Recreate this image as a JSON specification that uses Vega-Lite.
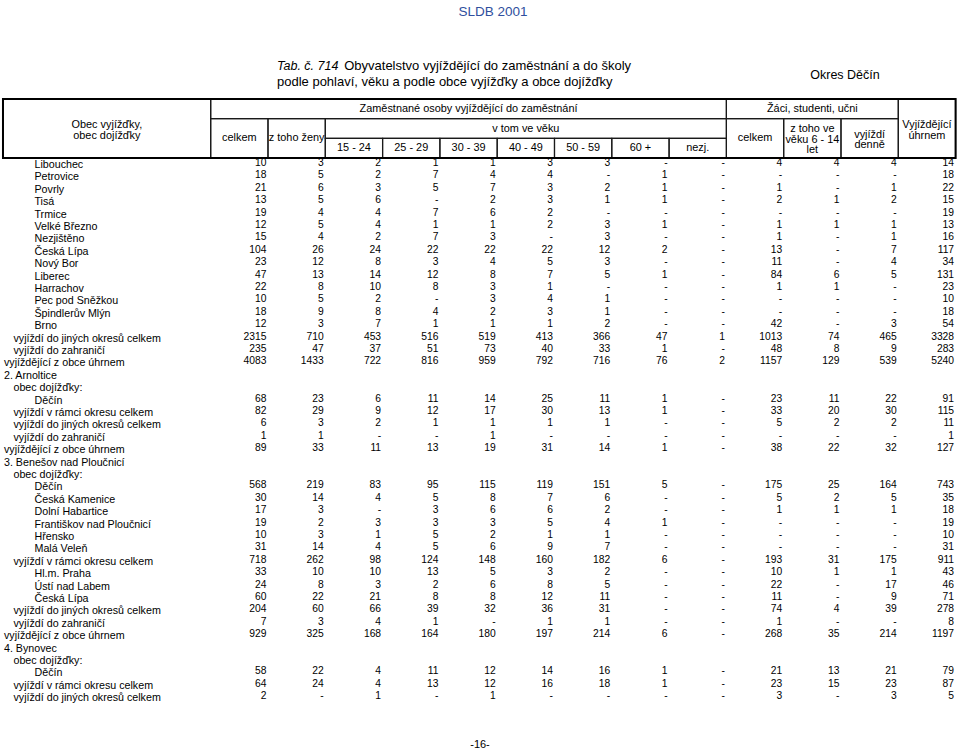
{
  "$schema": "https://vega.github.io/schema/vega-lite/v6.json",
  "width": 960,
  "height": 753,
  "autosize": {"type": "fit", "contains": "padding"},
  "padding": 0,
  "background": "#ffffff",
  "config": {"view": {"stroke": null}, "axis": {"disable": true}, "legend": {"disable": true}, "font": "Liberation Sans"},
  "datasets": {
    "rows": [
      {"r": 0, "label": "Libouchec", "lvl": 2, "celkem": 10, "zeny": 3, "v15_24": 2, "v25_29": 1, "v30_39": 1, "v40_49": 3, "v50_59": 3, "v60": 0, "nezj": 0, "zaci": 4, "zaci6_14": 4, "denne": 4, "uhrnem": 14},
      {"r": 1, "label": "Petrovice", "lvl": 2, "celkem": 18, "zeny": 5, "v15_24": 2, "v25_29": 7, "v30_39": 4, "v40_49": 4, "v50_59": 0, "v60": 1, "nezj": 0, "zaci": 0, "zaci6_14": 0, "denne": 0, "uhrnem": 18},
      {"r": 2, "label": "Povrly", "lvl": 2, "celkem": 21, "zeny": 6, "v15_24": 3, "v25_29": 5, "v30_39": 7, "v40_49": 3, "v50_59": 2, "v60": 1, "nezj": 0, "zaci": 1, "zaci6_14": 0, "denne": 1, "uhrnem": 22},
      {"r": 3, "label": "Tisá", "lvl": 2, "celkem": 13, "zeny": 5, "v15_24": 6, "v25_29": 0, "v30_39": 2, "v40_49": 3, "v50_59": 1, "v60": 1, "nezj": 0, "zaci": 2, "zaci6_14": 1, "denne": 2, "uhrnem": 15},
      {"r": 4, "label": "Trmice", "lvl": 2, "celkem": 19, "zeny": 4, "v15_24": 4, "v25_29": 7, "v30_39": 6, "v40_49": 2, "v50_59": 0, "v60": 0, "nezj": 0, "zaci": 0, "zaci6_14": 0, "denne": 0, "uhrnem": 19},
      {"r": 5, "label": "Velké Březno", "lvl": 2, "celkem": 12, "zeny": 5, "v15_24": 4, "v25_29": 1, "v30_39": 1, "v40_49": 2, "v50_59": 3, "v60": 1, "nezj": 0, "zaci": 1, "zaci6_14": 1, "denne": 1, "uhrnem": 13},
      {"r": 6, "label": "Nezjištěno", "lvl": 2, "celkem": 15, "zeny": 4, "v15_24": 2, "v25_29": 7, "v30_39": 3, "v40_49": 0, "v50_59": 3, "v60": 0, "nezj": 0, "zaci": 1, "zaci6_14": 0, "denne": 1, "uhrnem": 16},
      {"r": 7, "label": "Česká Lípa", "lvl": 2, "celkem": 104, "zeny": 26, "v15_24": 24, "v25_29": 22, "v30_39": 22, "v40_49": 22, "v50_59": 12, "v60": 2, "nezj": 0, "zaci": 13, "zaci6_14": 0, "denne": 7, "uhrnem": 117},
      {"r": 8, "label": "Nový Bor", "lvl": 2, "celkem": 23, "zeny": 12, "v15_24": 8, "v25_29": 3, "v30_39": 4, "v40_49": 5, "v50_59": 3, "v60": 0, "nezj": 0, "zaci": 11, "zaci6_14": 0, "denne": 4, "uhrnem": 34},
      {"r": 9, "label": "Liberec", "lvl": 2, "celkem": 47, "zeny": 13, "v15_24": 14, "v25_29": 12, "v30_39": 8, "v40_49": 7, "v50_59": 5, "v60": 1, "nezj": 0, "zaci": 84, "zaci6_14": 6, "denne": 5, "uhrnem": 131},
      {"r": 10, "label": "Harrachov", "lvl": 2, "celkem": 22, "zeny": 8, "v15_24": 10, "v25_29": 8, "v30_39": 3, "v40_49": 1, "v50_59": 0, "v60": 0, "nezj": 0, "zaci": 1, "zaci6_14": 1, "denne": 0, "uhrnem": 23},
      {"r": 11, "label": "Pec pod Sněžkou", "lvl": 2, "celkem": 10, "zeny": 5, "v15_24": 2, "v25_29": 0, "v30_39": 3, "v40_49": 4, "v50_59": 1, "v60": 0, "nezj": 0, "zaci": 0, "zaci6_14": 0, "denne": 0, "uhrnem": 10},
      {"r": 12, "label": "Špindlerův Mlýn", "lvl": 2, "celkem": 18, "zeny": 9, "v15_24": 8, "v25_29": 4, "v30_39": 2, "v40_49": 3, "v50_59": 1, "v60": 0, "nezj": 0, "zaci": 0, "zaci6_14": 0, "denne": 0, "uhrnem": 18},
      {"r": 13, "label": "Brno", "lvl": 2, "celkem": 12, "zeny": 3, "v15_24": 7, "v25_29": 1, "v30_39": 1, "v40_49": 1, "v50_59": 2, "v60": 0, "nezj": 0, "zaci": 42, "zaci6_14": 0, "denne": 3, "uhrnem": 54},
      {"r": 14, "label": "vyjíždí do jiných okresů celkem", "lvl": 1, "celkem": 2315, "zeny": 710, "v15_24": 453, "v25_29": 516, "v30_39": 519, "v40_49": 413, "v50_59": 366, "v60": 47, "nezj": 1, "zaci": 1013, "zaci6_14": 74, "denne": 465, "uhrnem": 3328},
      {"r": 15, "label": "vyjíždí do zahraničí", "lvl": 1, "celkem": 235, "zeny": 47, "v15_24": 37, "v25_29": 51, "v30_39": 73, "v40_49": 40, "v50_59": 33, "v60": 1, "nezj": 0, "zaci": 48, "zaci6_14": 8, "denne": 9, "uhrnem": 283},
      {"r": 16, "label": "vyjíždějící z obce úhrnem", "lvl": 0, "celkem": 4083, "zeny": 1433, "v15_24": 722, "v25_29": 816, "v30_39": 959, "v40_49": 792, "v50_59": 716, "v60": 76, "nezj": 2, "zaci": 1157, "zaci6_14": 129, "denne": 539, "uhrnem": 5240},
      {"r": 17, "label": "2. Arnoltice", "lvl": 0},
      {"r": 18, "label": "obec dojížďky:", "lvl": 1},
      {"r": 19, "label": "Děčín", "lvl": 2, "celkem": 68, "zeny": 23, "v15_24": 6, "v25_29": 11, "v30_39": 14, "v40_49": 25, "v50_59": 11, "v60": 1, "nezj": 0, "zaci": 23, "zaci6_14": 11, "denne": 22, "uhrnem": 91},
      {"r": 20, "label": "vyjíždí v rámci okresu celkem", "lvl": 1, "celkem": 82, "zeny": 29, "v15_24": 9, "v25_29": 12, "v30_39": 17, "v40_49": 30, "v50_59": 13, "v60": 1, "nezj": 0, "zaci": 33, "zaci6_14": 20, "denne": 30, "uhrnem": 115},
      {"r": 21, "label": "vyjíždí do jiných okresů celkem", "lvl": 1, "celkem": 6, "zeny": 3, "v15_24": 2, "v25_29": 1, "v30_39": 1, "v40_49": 1, "v50_59": 1, "v60": 0, "nezj": 0, "zaci": 5, "zaci6_14": 2, "denne": 2, "uhrnem": 11},
      {"r": 22, "label": "vyjíždí do zahraničí", "lvl": 1, "celkem": 1, "zeny": 1, "v15_24": 0, "v25_29": 0, "v30_39": 1, "v40_49": 0, "v50_59": 0, "v60": 0, "nezj": 0, "zaci": 0, "zaci6_14": 0, "denne": 0, "uhrnem": 1},
      {"r": 23, "label": "vyjíždějící z obce úhrnem", "lvl": 0, "celkem": 89, "zeny": 33, "v15_24": 11, "v25_29": 13, "v30_39": 19, "v40_49": 31, "v50_59": 14, "v60": 1, "nezj": 0, "zaci": 38, "zaci6_14": 22, "denne": 32, "uhrnem": 127},
      {"r": 24, "label": "3. Benešov nad Ploučnicí", "lvl": 0},
      {"r": 25, "label": "obec dojížďky:", "lvl": 1},
      {"r": 26, "label": "Děčín", "lvl": 2, "celkem": 568, "zeny": 219, "v15_24": 83, "v25_29": 95, "v30_39": 115, "v40_49": 119, "v50_59": 151, "v60": 5, "nezj": 0, "zaci": 175, "zaci6_14": 25, "denne": 164, "uhrnem": 743},
      {"r": 27, "label": "Česká Kamenice", "lvl": 2, "celkem": 30, "zeny": 14, "v15_24": 4, "v25_29": 5, "v30_39": 8, "v40_49": 7, "v50_59": 6, "v60": 0, "nezj": 0, "zaci": 5, "zaci6_14": 2, "denne": 5, "uhrnem": 35},
      {"r": 28, "label": "Dolní Habartice", "lvl": 2, "celkem": 17, "zeny": 3, "v15_24": 0, "v25_29": 3, "v30_39": 6, "v40_49": 6, "v50_59": 2, "v60": 0, "nezj": 0, "zaci": 1, "zaci6_14": 1, "denne": 1, "uhrnem": 18},
      {"r": 29, "label": "Františkov nad Ploučnicí", "lvl": 2, "celkem": 19, "zeny": 2, "v15_24": 3, "v25_29": 3, "v30_39": 3, "v40_49": 5, "v50_59": 4, "v60": 1, "nezj": 0, "zaci": 0, "zaci6_14": 0, "denne": 0, "uhrnem": 19},
      {"r": 30, "label": "Hřensko", "lvl": 2, "celkem": 10, "zeny": 3, "v15_24": 1, "v25_29": 5, "v30_39": 2, "v40_49": 1, "v50_59": 1, "v60": 0, "nezj": 0, "zaci": 0, "zaci6_14": 0, "denne": 0, "uhrnem": 10},
      {"r": 31, "label": "Malá Veleň", "lvl": 2, "celkem": 31, "zeny": 14, "v15_24": 4, "v25_29": 5, "v30_39": 6, "v40_49": 9, "v50_59": 7, "v60": 0, "nezj": 0, "zaci": 0, "zaci6_14": 0, "denne": 0, "uhrnem": 31},
      {"r": 32, "label": "vyjíždí v rámci okresu celkem", "lvl": 1, "celkem": 718, "zeny": 262, "v15_24": 98, "v25_29": 124, "v30_39": 148, "v40_49": 160, "v50_59": 182, "v60": 6, "nezj": 0, "zaci": 193, "zaci6_14": 31, "denne": 175, "uhrnem": 911},
      {"r": 33, "label": "Hl.m. Praha", "lvl": 2, "celkem": 33, "zeny": 10, "v15_24": 10, "v25_29": 13, "v30_39": 5, "v40_49": 3, "v50_59": 2, "v60": 0, "nezj": 0, "zaci": 10, "zaci6_14": 1, "denne": 1, "uhrnem": 43},
      {"r": 34, "label": "Ústí nad Labem", "lvl": 2, "celkem": 24, "zeny": 8, "v15_24": 3, "v25_29": 2, "v30_39": 6, "v40_49": 8, "v50_59": 5, "v60": 0, "nezj": 0, "zaci": 22, "zaci6_14": 0, "denne": 17, "uhrnem": 46},
      {"r": 35, "label": "Česká Lípa", "lvl": 2, "celkem": 60, "zeny": 22, "v15_24": 21, "v25_29": 8, "v30_39": 8, "v40_49": 12, "v50_59": 11, "v60": 0, "nezj": 0, "zaci": 11, "zaci6_14": 0, "denne": 9, "uhrnem": 71},
      {"r": 36, "label": "vyjíždí do jiných okresů celkem", "lvl": 1, "celkem": 204, "zeny": 60, "v15_24": 66, "v25_29": 39, "v30_39": 32, "v40_49": 36, "v50_59": 31, "v60": 0, "nezj": 0, "zaci": 74, "zaci6_14": 4, "denne": 39, "uhrnem": 278},
      {"r": 37, "label": "vyjíždí do zahraničí", "lvl": 1, "celkem": 7, "zeny": 3, "v15_24": 4, "v25_29": 1, "v30_39": 0, "v40_49": 1, "v50_59": 1, "v60": 0, "nezj": 0, "zaci": 1, "zaci6_14": 0, "denne": 0, "uhrnem": 8},
      {"r": 38, "label": "vyjíždějící z obce úhrnem", "lvl": 0, "celkem": 929, "zeny": 325, "v15_24": 168, "v25_29": 164, "v30_39": 180, "v40_49": 197, "v50_59": 214, "v60": 6, "nezj": 0, "zaci": 268, "zaci6_14": 35, "denne": 214, "uhrnem": 1197},
      {"r": 39, "label": "4. Bynovec", "lvl": 0},
      {"r": 40, "label": "obec dojížďky:", "lvl": 1},
      {"r": 41, "label": "Děčín", "lvl": 2, "celkem": 58, "zeny": 22, "v15_24": 4, "v25_29": 11, "v30_39": 12, "v40_49": 14, "v50_59": 16, "v60": 1, "nezj": 0, "zaci": 21, "zaci6_14": 13, "denne": 21, "uhrnem": 79},
      {"r": 42, "label": "vyjíždí v rámci okresu celkem", "lvl": 1, "celkem": 64, "zeny": 24, "v15_24": 4, "v25_29": 13, "v30_39": 12, "v40_49": 16, "v50_59": 18, "v60": 1, "nezj": 0, "zaci": 23, "zaci6_14": 15, "denne": 23, "uhrnem": 87},
      {"r": 43, "label": "vyjíždí do jiných okresů celkem", "lvl": 1, "celkem": 2, "zeny": 0, "v15_24": 1, "v25_29": 0, "v30_39": 1, "v40_49": 0, "v50_59": 0, "v60": 0, "nezj": 0, "zaci": 3, "zaci6_14": 0, "denne": 3, "uhrnem": 5}
    ],
    "columns": [
      {"key": "celkem", "col": 0}, {"key": "zeny", "col": 1}, {"key": "v15_24", "col": 2}, {"key": "v25_29", "col": 3},
      {"key": "v30_39", "col": 4}, {"key": "v40_49", "col": 5}, {"key": "v50_59", "col": 6}, {"key": "v60", "col": 7},
      {"key": "nezj", "col": 8}, {"key": "zaci", "col": 9}, {"key": "zaci6_14", "col": 10}, {"key": "denne", "col": 11},
      {"key": "uhrnem", "col": 12}
    ],
    "header": [
      {"id": "frame", "text": "", "c1": -4.625, "c2": 12, "h1": 0, "h2": 3},
      {"id": "obec", "text": "Obec vyjížďky,\nobec dojížďky", "c1": -4.625, "c2": -1, "h1": 0, "h2": 3},
      {"id": "zam", "text": "Zaměstnané osoby vyjíždějící do zaměstnání", "c1": -1, "c2": 8, "h1": 0, "h2": 1},
      {"id": "zaci", "text": "Žáci, studenti, učni", "c1": 8, "c2": 11, "h1": 0, "h2": 1},
      {"id": "uhrnem", "text": "Vyjíždějící\núhrnem", "c1": 11, "c2": 12, "h1": 0, "h2": 3},
      {"id": "celkem", "text": "celkem", "c1": -1, "c2": 0, "h1": 1, "h2": 3},
      {"id": "zeny", "text": "z toho ženy", "c1": 0, "c2": 1, "h1": 1, "h2": 3},
      {"id": "vtom", "text": "v tom ve věku", "c1": 1, "c2": 8, "h1": 1, "h2": 2},
      {"id": "a15", "text": "15 - 24", "c1": 1, "c2": 2, "h1": 2, "h2": 3},
      {"id": "a25", "text": "25 - 29", "c1": 2, "c2": 3, "h1": 2, "h2": 3},
      {"id": "a30", "text": "30 - 39", "c1": 3, "c2": 4, "h1": 2, "h2": 3},
      {"id": "a40", "text": "40 - 49", "c1": 4, "c2": 5, "h1": 2, "h2": 3},
      {"id": "a50", "text": "50 - 59", "c1": 5, "c2": 6, "h1": 2, "h2": 3},
      {"id": "a60", "text": "60 +", "c1": 6, "c2": 7, "h1": 2, "h2": 3},
      {"id": "nezj", "text": "nezj.", "c1": 7, "c2": 8, "h1": 2, "h2": 3},
      {"id": "zcelkem", "text": "celkem", "c1": 8, "c2": 9, "h1": 1, "h2": 3},
      {"id": "z614", "text": "z toho ve\nvěku 6 - 14\nlet", "c1": 9, "c2": 10, "h1": 1, "h2": 3},
      {"id": "denne", "text": "vyjíždí\ndenně", "c1": 10, "c2": 11, "h1": 1, "h2": 3}
    ],
    "notes": [
      {"role": "page", "text": "SLDB 2001"},
      {"role": "tabno", "text": "Tab. č. 714"},
      {"role": "title1", "text": "Obyvatelstvo vyjíždějící do zaměstnání a  do školy"},
      {"role": "title2", "text": "podle pohlaví, věku a podle obce vyjížďky a obce dojížďky"},
      {"role": "region", "text": "Okres Děčín"},
      {"role": "pageno", "text": "-16-"}
    ]
  },
  "layer": [
    {
      "data": {"name": "rows"},
      "layer": [
        {
          "transform": [
            {"fold": ["celkem", "zeny", "v15_24", "v25_29", "v30_39", "v40_49", "v50_59", "v60", "nezj", "zaci", "zaci6_14", "denne", "uhrnem"], "as": ["key", "value"]},
            {"filter": "isValid(datum.value)"},
            {"lookup": "key", "from": {"data": {"name": "columns"}, "key": "key", "fields": ["col"]}}
          ],
          "mark": {"type": "text", "align": "right", "baseline": "middle", "fontSize": 10.3, "dx": -1.5, "color": "#000000"},
          "encoding": {
            "x": {"field": "col", "type": "quantitative", "scale": {"domain": [-4.677, 12.077], "nice": false, "zero": false}, "axis": null},
            "y": {"field": "r", "type": "quantitative", "scale": {"domain": [-13.145, 47.58], "reverse": true, "nice": false, "zero": false}, "axis": null},
            "text": {"condition": {"test": "datum.value === 0", "value": "-"}, "field": "value", "type": "nominal"}
          }
        },
        {
          "transform": [{"filter": "datum.lvl === 0"}],
          "mark": {"type": "text", "align": "left", "baseline": "middle", "fontSize": 10.7, "dx": 1, "dy": 2, "color": "#000000"},
          "encoding": {
            "x": {"datum": -4.625, "type": "quantitative", "scale": {"domain": [-4.677, 12.077], "nice": false, "zero": false}, "axis": null},
            "y": {"field": "r", "type": "quantitative", "scale": {"domain": [-13.145, 47.58], "reverse": true, "nice": false, "zero": false}, "axis": null},
            "text": {"field": "label", "type": "nominal"}
          }
        },
        {
          "transform": [{"filter": "datum.lvl === 1"}],
          "mark": {"type": "text", "align": "left", "baseline": "middle", "fontSize": 10.7, "dx": 10.5, "dy": 2, "color": "#000000"},
          "encoding": {
            "x": {"datum": -4.625, "type": "quantitative", "scale": {"domain": [-4.677, 12.077], "nice": false, "zero": false}, "axis": null},
            "y": {"field": "r", "type": "quantitative", "scale": {"domain": [-13.145, 47.58], "reverse": true, "nice": false, "zero": false}, "axis": null},
            "text": {"field": "label", "type": "nominal"}
          }
        },
        {
          "transform": [{"filter": "datum.lvl === 2"}],
          "mark": {"type": "text", "align": "left", "baseline": "middle", "fontSize": 10.7, "dx": 31.5, "dy": 2, "color": "#000000"},
          "encoding": {
            "x": {"datum": -4.625, "type": "quantitative", "scale": {"domain": [-4.677, 12.077], "nice": false, "zero": false}, "axis": null},
            "y": {"field": "r", "type": "quantitative", "scale": {"domain": [-13.145, 47.58], "reverse": true, "nice": false, "zero": false}, "axis": null},
            "text": {"field": "label", "type": "nominal"}
          }
        }
      ]
    },
    {
      "data": {"name": "header"},
      "layer": [
        {
          "transform": [{"filter": "datum.id !== 'frame'"}],
          "mark": {"type": "rect", "filled": false, "stroke": "#1a1a1a", "strokeWidth": 1.2},
          "encoding": {
            "x": {"field": "c1", "type": "quantitative", "scale": {"domain": [-4.677, 12.077], "nice": false, "zero": false}, "axis": null},
            "x2": {"field": "c2"},
            "y": {"field": "h1", "type": "quantitative", "scale": {"domain": [-5.034, 33.254], "reverse": true, "nice": false, "zero": false}, "axis": null},
            "y2": {"field": "h2"}
          }
        },
        {
          "transform": [{"filter": "datum.id === 'frame'"}],
          "mark": {"type": "rect", "filled": false, "stroke": "#000000", "strokeWidth": 2},
          "encoding": {
            "x": {"field": "c1", "type": "quantitative", "scale": {"domain": [-4.677, 12.077], "nice": false, "zero": false}, "axis": null},
            "x2": {"field": "c2"},
            "y": {"field": "h1", "type": "quantitative", "scale": {"domain": [-5.034, 33.254], "reverse": true, "nice": false, "zero": false}, "axis": null},
            "y2": {"field": "h2"}
          }
        },
        {
          "transform": [
            {"filter": "datum.text !== ''"},
            {"fold": ["c1", "c2"], "as": ["ck", "cb"]},
            {"fold": ["h1", "h2"], "as": ["hk", "hb"]}
          ],
          "layer": [
            {
              "transform": [{"filter": "length(split(datum.text, '\\n')) === 1"}],
              "mark": {"type": "text", "align": "center", "baseline": "middle", "fontSize": 10.9, "color": "#000000"},
              "encoding": {
                "x": {"aggregate": "mean", "field": "cb", "type": "quantitative", "scale": {"domain": [-4.677, 12.077], "nice": false, "zero": false}, "axis": null},
                "y": {"aggregate": "mean", "field": "hb", "type": "quantitative", "scale": {"domain": [-5.034, 33.254], "reverse": true, "nice": false, "zero": false}, "axis": null},
                "detail": {"field": "id", "type": "nominal"},
                "text": {"field": "text", "type": "nominal"}
              }
            },
            {
              "transform": [{"filter": "length(split(datum.text, '\\n')) === 2"}],
              "mark": {"type": "text", "align": "center", "baseline": "middle", "fontSize": 10.9, "lineBreak": "\n", "lineHeight": 10.5, "dy": -3.5, "color": "#000000"},
              "encoding": {
                "x": {"aggregate": "mean", "field": "cb", "type": "quantitative", "scale": {"domain": [-4.677, 12.077], "nice": false, "zero": false}, "axis": null},
                "y": {"aggregate": "mean", "field": "hb", "type": "quantitative", "scale": {"domain": [-5.034, 33.254], "reverse": true, "nice": false, "zero": false}, "axis": null},
                "detail": {"field": "id", "type": "nominal"},
                "text": {"field": "text", "type": "nominal"}
              }
            },
            {
              "transform": [{"filter": "length(split(datum.text, '\\n')) === 3"}],
              "mark": {"type": "text", "align": "center", "baseline": "middle", "fontSize": 10.9, "lineBreak": "\n", "lineHeight": 10.75, "dy": -9.5, "color": "#000000"},
              "encoding": {
                "x": {"aggregate": "mean", "field": "cb", "type": "quantitative", "scale": {"domain": [-4.677, 12.077], "nice": false, "zero": false}, "axis": null},
                "y": {"aggregate": "mean", "field": "hb", "type": "quantitative", "scale": {"domain": [-5.034, 33.254], "reverse": true, "nice": false, "zero": false}, "axis": null},
                "detail": {"field": "id", "type": "nominal"},
                "text": {"field": "text", "type": "nominal"}
              }
            }
          ]
        }
      ]
    },
    {
      "data": {"name": "notes"},
      "encoding": {
        "text": {"field": "text", "type": "nominal"}
      },
      "layer": [
        {
          "transform": [{"filter": "datum.role === 'page'"}],
          "mark": {"type": "text", "align": "center", "baseline": "middle", "fontSize": 13.5, "color": "#2f4f9e"},
          "encoding": {
            "x": {"datum": 3.927, "type": "quantitative", "scale": {"domain": [-4.677, 12.077], "nice": false, "zero": false}, "axis": null},
            "y": {"datum": -4.424, "type": "quantitative", "scale": {"domain": [-5.034, 33.254], "reverse": true, "nice": false, "zero": false}, "axis": null}
          }
        },
        {
          "transform": [{"filter": "datum.role === 'tabno'"}],
          "mark": {"type": "text", "align": "left", "baseline": "middle", "fontStyle": "italic", "fontSize": 12.5, "color": "#000000"},
          "encoding": {
            "x": {"datum": 0.157, "type": "quantitative", "scale": {"domain": [-4.677, 12.077], "nice": false, "zero": false}, "axis": null},
            "y": {"datum": -1.678, "type": "quantitative", "scale": {"domain": [-5.034, 33.254], "reverse": true, "nice": false, "zero": false}, "axis": null}
          }
        },
        {
          "transform": [{"filter": "datum.role === 'title1'"}],
          "mark": {"type": "text", "align": "left", "baseline": "middle", "fontSize": 13, "color": "#000000"},
          "encoding": {
            "x": {"datum": 1.33, "type": "quantitative", "scale": {"domain": [-4.677, 12.077], "nice": false, "zero": false}, "axis": null},
            "y": {"datum": -1.678, "type": "quantitative", "scale": {"domain": [-5.034, 33.254], "reverse": true, "nice": false, "zero": false}, "axis": null}
          }
        },
        {
          "transform": [{"filter": "datum.role === 'title2'"}],
          "mark": {"type": "text", "align": "left", "baseline": "middle", "fontSize": 13, "color": "#000000"},
          "encoding": {
            "x": {"datum": 0.157, "type": "quantitative", "scale": {"domain": [-4.677, 12.077], "nice": false, "zero": false}, "axis": null},
            "y": {"datum": -0.864, "type": "quantitative", "scale": {"domain": [-5.034, 33.254], "reverse": true, "nice": false, "zero": false}, "axis": null}
          }
        },
        {
          "transform": [{"filter": "datum.role === 'region'"}],
          "mark": {"type": "text", "align": "center", "baseline": "middle", "fontSize": 12.5, "color": "#000000"},
          "encoding": {
            "x": {"datum": 10.07, "type": "quantitative", "scale": {"domain": [-4.677, 12.077], "nice": false, "zero": false}, "axis": null},
            "y": {"datum": -1.22, "type": "quantitative", "scale": {"domain": [-5.034, 33.254], "reverse": true, "nice": false, "zero": false}, "axis": null}
          }
        },
        {
          "transform": [{"filter": "datum.role === 'pageno'"}],
          "mark": {"type": "text", "align": "center", "baseline": "middle", "fontSize": 11, "color": "#000000"},
          "encoding": {
            "x": {"datum": 3.7, "type": "quantitative", "scale": {"domain": [-4.677, 12.077], "nice": false, "zero": false}, "axis": null},
            "y": {"datum": 32.85, "type": "quantitative", "scale": {"domain": [-5.034, 33.254], "reverse": true, "nice": false, "zero": false}, "axis": null}
          }
        }
      ]
    }
  ],
  "resolve": {"scale": {"y": "independent"}}
}
